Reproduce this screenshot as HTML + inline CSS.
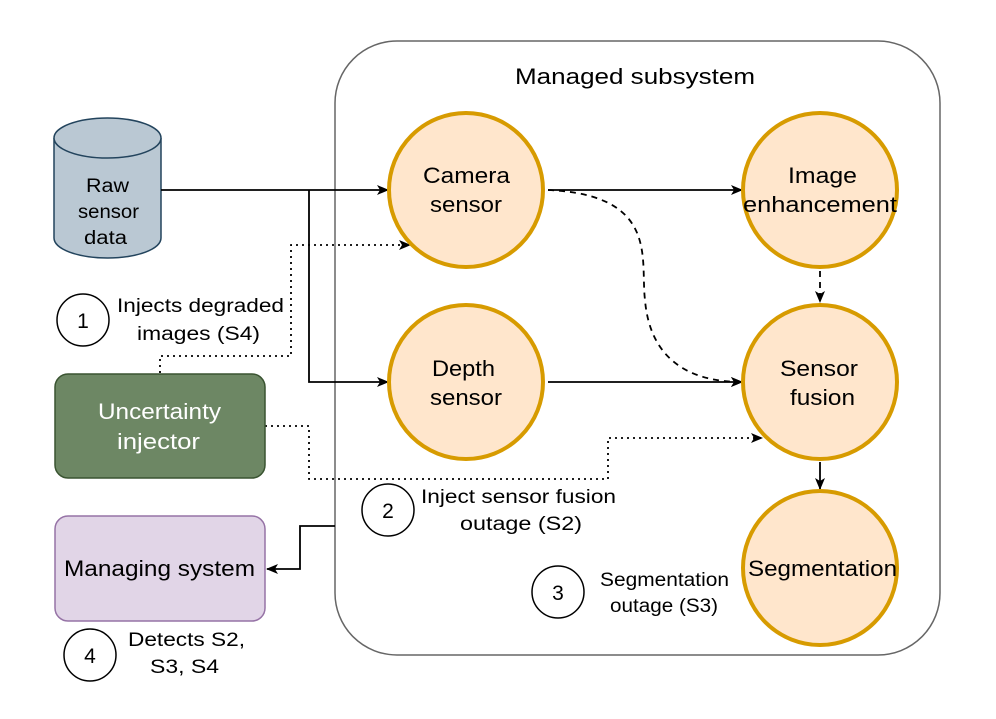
<!DOCTYPE html>
<html><head><meta charset="utf-8"><style>
html,body{margin:0;padding:0;background:#fff;}
svg{display:block;font-family:"Liberation Sans",Arial,sans-serif;}
</style></head><body>
<svg width="996" height="719" viewBox="0 0 996 719" xmlns="http://www.w3.org/2000/svg">
<defs>
<marker id="a" markerWidth="12" markerHeight="10" refX="11" refY="5" orient="auto" markerUnits="userSpaceOnUse">
<path d="M0,0 L12,5 L0,10 L3,5 Z" fill="#000"/>
</marker>
</defs>
<rect x="335" y="41" width="605" height="614" rx="62" fill="#fff" stroke="#666" stroke-width="1.5"/>
<text x="515" y="84" font-size="22" textLength="240" lengthAdjust="spacingAndGlyphs">Managed subsystem</text>

<!-- cylinder -->
<path d="M54,138 L54,238 A53.5,20 0 0 0 161,238 L161,138" fill="#bac8d3" stroke="#23445d" stroke-width="1.5"/>
<ellipse cx="107.5" cy="138" rx="53.5" ry="20" fill="#bac8d3" stroke="#23445d" stroke-width="1.5"/>
<g font-size="19" lengthAdjust="spacingAndGlyphs"><text x="86" y="192" textLength="43" lengthAdjust="spacingAndGlyphs">Raw</text><text x="78" y="218" textLength="61" lengthAdjust="spacingAndGlyphs">sensor</text><text x="84" y="244" textLength="43" lengthAdjust="spacingAndGlyphs">data</text></g>

<!-- connectors -->
<g fill="none" stroke="#000" stroke-width="1.8">
<path d="M161,190 L388,190" marker-end="url(#a)"/>
<path d="M309,190 L309,382 L388,382" marker-end="url(#a)"/>
<path d="M548,190 L742,190" marker-end="url(#a)"/>
<path d="M548,382 L742,382" marker-end="url(#a)"/>
<path d="M820,462 L820,489" marker-end="url(#a)"/>
<path d="M335,526 L300,526 L300,569 L267,569" marker-end="url(#a)"/>
<path d="M548,190 C660,195 640,260 645,300 C650,360 690,382 742,382" stroke-dasharray="6,5" marker-end="url(#a)"/>
<path d="M820,271 L820,302" stroke-dasharray="6,5" marker-end="url(#a)"/>
<path d="M160,373 L160,356 L291,356 L291,245 L410,245" stroke-dasharray="2,4" marker-end="url(#a)"/>
<path d="M265,426 L309,426 L309,479 L608,479 L608,438 L762,438" stroke-dasharray="2,4" marker-end="url(#a)"/>
</g>

<!-- circles -->
<g fill="#ffe6cc" stroke="#d79b00" stroke-width="4">
<circle cx="466" cy="190" r="77"/>
<circle cx="820" cy="190" r="77"/>
<circle cx="466" cy="382" r="77"/>
<circle cx="820" cy="382" r="77"/>
<circle cx="820" cy="568" r="77"/>
</g>
<g font-size="22">
<text x="423" y="183" textLength="87" lengthAdjust="spacingAndGlyphs">Camera</text><text x="430" y="212" textLength="72" lengthAdjust="spacingAndGlyphs">sensor</text>
<text x="788" y="183" textLength="69" lengthAdjust="spacingAndGlyphs">Image</text><text x="743" y="212" textLength="154" lengthAdjust="spacingAndGlyphs">enhancement</text>
<text x="432" y="376" textLength="63" lengthAdjust="spacingAndGlyphs">Depth</text><text x="430" y="405" textLength="72" lengthAdjust="spacingAndGlyphs">sensor</text>
<text x="780" y="376" textLength="78" lengthAdjust="spacingAndGlyphs">Sensor</text><text x="790" y="405" textLength="65" lengthAdjust="spacingAndGlyphs">fusion</text>
<text x="748" y="576" textLength="149" lengthAdjust="spacingAndGlyphs">Segmentation</text>
</g>

<!-- boxes -->
<rect x="55" y="374" width="210" height="104" rx="13" fill="#6d8764" stroke="#3a5431" stroke-width="1.5"/>
<g font-size="22" fill="#fff"><text x="98" y="419" textLength="123" lengthAdjust="spacingAndGlyphs">Uncertainty</text><text x="117" y="449" textLength="83" lengthAdjust="spacingAndGlyphs">injector</text></g>
<rect x="55" y="516" width="210" height="105" rx="13" fill="#e1d5e7" stroke="#9673a6" stroke-width="1.5"/>
<text x="64" y="576" font-size="22" textLength="191" lengthAdjust="spacingAndGlyphs">Managing system</text>

<!-- numbered -->
<g fill="#fff" stroke="#000" stroke-width="1.5">
<circle cx="83" cy="320" r="26"/><circle cx="388" cy="510" r="26"/><circle cx="558" cy="592" r="26"/><circle cx="90" cy="655" r="26"/>
</g>
<g font-size="21" text-anchor="middle">
<text x="83" y="328">1</text><text x="388" y="518">2</text><text x="558" y="600">3</text><text x="90" y="663">4</text>
</g>
<g font-size="19">
<text x="117" y="312" textLength="167" lengthAdjust="spacingAndGlyphs">Injects degraded</text><text x="137" y="340" textLength="123" lengthAdjust="spacingAndGlyphs">images (S4)</text>
<text x="421" y="503" textLength="195" lengthAdjust="spacingAndGlyphs">Inject sensor fusion</text><text x="460" y="530" textLength="122" lengthAdjust="spacingAndGlyphs">outage (S2)</text>
<text x="600" y="586" textLength="129" lengthAdjust="spacingAndGlyphs">Segmentation</text><text x="610" y="612" textLength="108" lengthAdjust="spacingAndGlyphs">outage (S3)</text>
<text x="128" y="646" textLength="117" lengthAdjust="spacingAndGlyphs">Detects S2,</text><text x="150" y="673" textLength="69" lengthAdjust="spacingAndGlyphs">S3, S4</text>
</g>
</svg>
</body></html>
